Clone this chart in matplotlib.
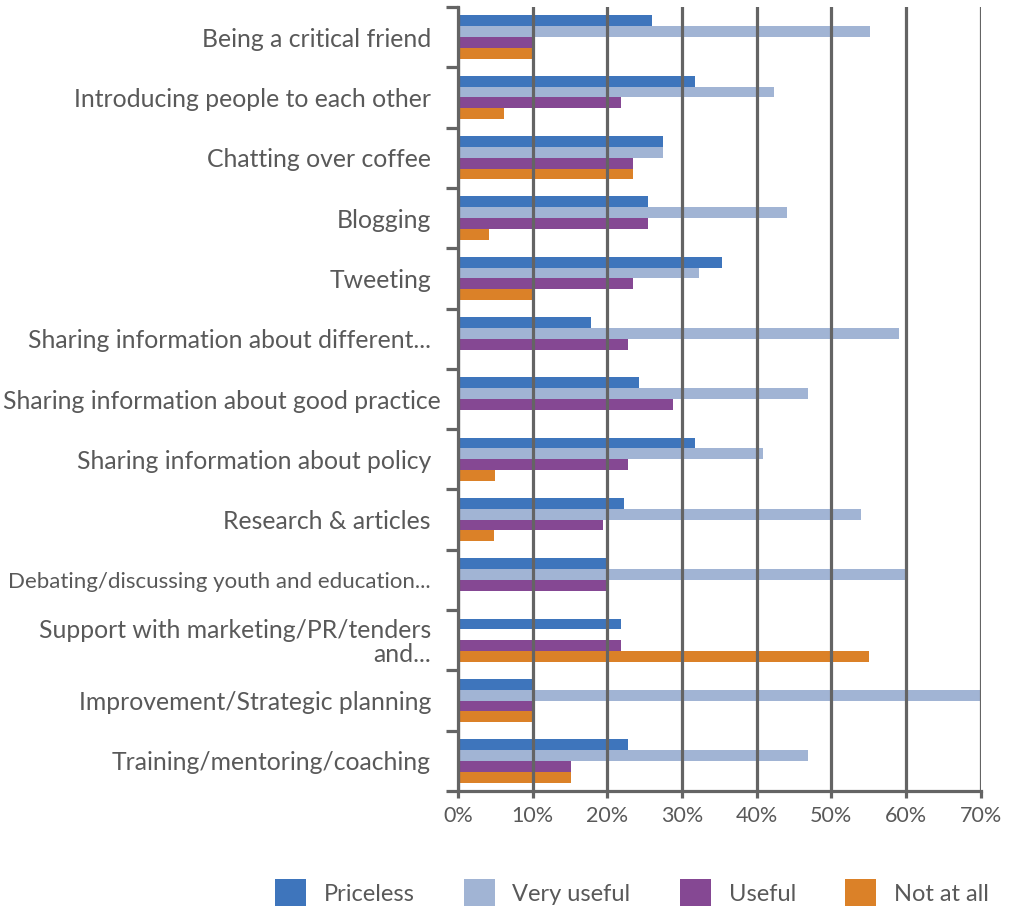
import numpy as np
import matplotlib
matplotlib.use("Agg")
import matplotlib.pyplot as plt
from matplotlib.transforms import ScaledTranslation

# activities, top to bottom
categories = [
    "Being a critical friend",
    "Introducing people to each other",
    "Chatting over coffee",
    "Blogging",
    "Tweeting",
    "Sharing information about different...",
    "Sharing information about good practice",
    "Sharing information about policy",
    "Research & articles",
    "Debating/discussing youth and education...",
    "Support with marketing/PR/tenders\nand...",
    "Improvement/Strategic planning",
    "Training/mentoring/coaching",
]

# percentage of responses per rating
priceless   = [26.0, 31.8, 27.5, 25.5, 35.4, 17.8, 24.2, 31.8, 22.3, 20.0, 21.8, 10.0, 22.8]
very_useful = [55.2, 42.3, 27.5, 44.0, 32.3, 59.0, 46.9, 40.9, 54.0, 60.0, 0.0, 70.0, 46.9]
useful      = [10.0, 21.8, 23.5, 25.5, 23.4, 22.8, 28.8, 22.8, 19.4, 20.0, 21.8, 10.0, 15.2]
not_at_all  = [10.0, 6.1, 23.5, 4.1, 10.0, 0.0, 0.0, 4.9, 4.8, 0.0, 55.1, 10.0, 15.2]

series = ["Priceless", "Very useful", "Useful", "Not at all"]
colors = ["#3e75bc", "#a1b4d4", "#854893", "#db8128"]
values = [priceless, very_useful, useful, not_at_all]

text_col = "#595959"
grid_col = "#646464"

plt.rcParams["font.family"] = ["Lato", "DejaVu Sans"]

fig = plt.figure(figsize=(10.11, 9.09), dpi=100)
ax = fig.add_axes([0.453, 0.1298, 0.517, 0.8625])

y = np.arange(len(categories))
h = 0.18
for k, (name, vals, c) in enumerate(zip(series, values, colors)):
    ax.barh(y + (k - 1.5) * h, np.array(vals) / 100, height=h, color=c,
            label=name, zorder=1)

ax.set_xlim(0, 0.70)
ax.set_ylim(len(categories) - 0.5, -0.5)

ax.set_xticks(np.arange(0, 0.71, 0.1))
ax.set_xticklabels([f"{int(round(v * 100))}%" for v in np.arange(0, 0.71, 0.1)])
ax.tick_params(axis="x", direction="out", length=5, width=2.3, color=grid_col,
               labelsize=15.5, labelcolor=text_col, pad=6)
ax.xaxis.grid(True, color=grid_col, linewidth=2.3)
ax.set_axisbelow(False)

ax.set_yticks(y)
ax.set_yticklabels(categories)
ax.set_yticks(np.arange(-0.5, len(categories), 1), minor=True)
ax.tick_params(axis="y", which="major", length=0, labelsize=17.8,
               labelcolor=text_col, pad=19.5)
ax.tick_params(axis="y", which="minor", direction="out", length=8.6, width=2.3,
               color=grid_col)
for lab in ax.get_yticklabels():
    lab.set_horizontalalignment("right")
    txt = lab.get_text()
    if txt.startswith("Debating"):
        lab.set_fontsize(16)
    if txt.startswith("Support"):
        lab.set_linespacing(1.05)
    if txt.endswith("good practice"):
        # long label runs a little past the others
        lab.set_transform(lab.get_transform() + ScaledTranslation(0.10, 0, fig.dpi_scale_trans))

for side in ["top", "right"]:
    ax.spines[side].set_visible(False)
for side in ["left", "bottom"]:
    ax.spines[side].set_color(grid_col)
    ax.spines[side].set_linewidth(2.3)

fig.legend(loc="center", bbox_to_anchor=(0.625, 0.018), ncol=4, frameon=False,
           fontsize=17, labelcolor=text_col, handlelength=1.3,
           handleheight=1.35, handletextpad=0.75, columnspacing=2.1)

fig.savefig("out.png", dpi=100)
